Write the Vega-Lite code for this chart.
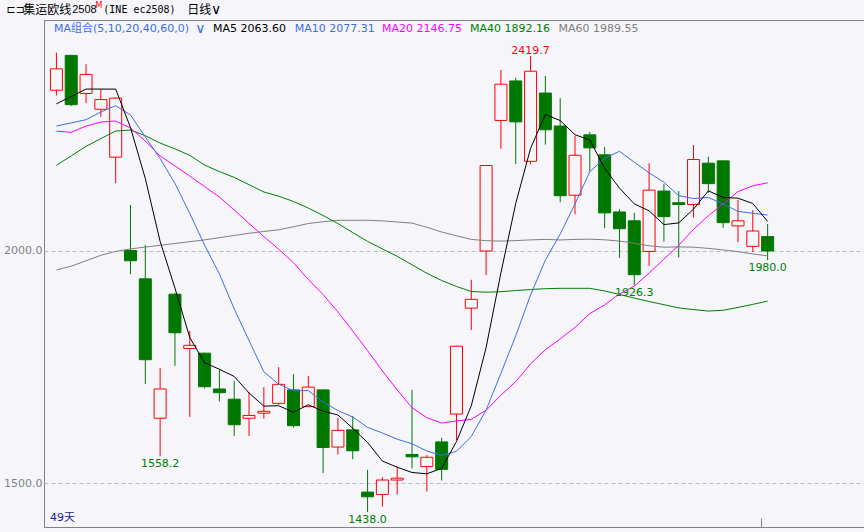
{
"$schema":"https://vega.github.io/schema/vega-lite/v6.json",
"width":820,"height":507,"autosize":"none",
"padding":{"left":44,"top":20,"right":0,"bottom":5},
"background":"#f5f5fa",
"config":{"view":{"stroke":"#808080","strokeWidth":1},"text":{"font":"DejaVu Sans","fontSize":11}},
"datasets":{
"candles":[
{"i":1,"o":2346,"h":2427,"l":2335,"c":2392,"ma5":2316.8,"ma10":2269.0,"ma20":2258.0,"ma40":2184.4,"ma60":1959.1},
{"i":2,"o":2421,"h":2422,"l":2312,"c":2315,"ma5":2332.5,"ma10":2275.7,"ma20":2255.4,"ma40":2204.7,"ma60":1967.3},
{"i":3,"o":2339,"h":2402,"l":2318,"c":2380,"ma5":2348.5,"ma10":2282.6,"ma20":2269.0,"ma40":2225.2,"ma60":1978.9},
{"i":4,"o":2305,"h":2348,"l":2289,"c":2326,"ma5":2348.5,"ma10":2299.2,"ma20":2277.6,"ma40":2241.9,"ma60":1990.7},
{"i":5,"o":2202,"h":2331,"l":2146,"c":2329,"ma5":2348.4,"ma10":2312.7,"ma20":2279.8,"ma40":2258.2,"ma60":1999.1},
{"i":6,"o":2001,"h":2099,"l":1950,"c":1979,"ma5":2265.8,"ma10":2292.7,"ma20":2264.7,"ma40":2260.4,"ma60":2004.5},
{"i":7,"o":1940,"h":2013,"l":1714,"c":1766,"ma5":2156.0,"ma10":2245.4,"ma20":2236.7,"ma40":2248.1,"ma60":2008.4},
{"i":8,"o":1640,"h":1748,"l":1558.2,"c":1703,"ma5":2020.6,"ma10":2198.9,"ma20":2204.4,"ma40":2232.4,"ma60":2012.3},
{"i":9,"o":1907,"h":1910,"l":1753,"c":1824,"ma5":1920.2,"ma10":2145.5,"ma20":2183.0,"ma40":2219.7,"ma60":2016.1},
{"i":10,"o":1790,"h":1828,"l":1643,"c":1797,"ma5":1813.8,"ma10":2081.1,"ma20":2161.4,"ma40":2206.0,"ma60":2020.0},
{"i":11,"o":1780,"h":1781,"l":1704,"c":1708,"ma5":1759.6,"ma10":2012.7,"ma20":2138.6,"ma40":2185.0,"ma60":2023.9},
{"i":12,"o":1703,"h":1745,"l":1676,"c":1695,"ma5":1745.4,"ma10":1950.7,"ma20":2116.0,"ma40":2170.9,"ma60":2028.7},
{"i":13,"o":1681,"h":1720,"l":1602,"c":1626,"ma5":1730.0,"ma10":1875.3,"ma20":2088.2,"ma40":2158.4,"ma60":2033.4},
{"i":14,"o":1640,"h":1696,"l":1602,"c":1646,"ma5":1694.4,"ma10":1807.3,"ma20":2059.4,"ma40":2142.7,"ma60":2038.1},
{"i":15,"o":1651,"h":1707,"l":1639,"c":1655,"ma5":1666.0,"ma10":1739.9,"ma20":2031.0,"ma40":2127.0,"ma60":2042.0},
{"i":16,"o":1672,"h":1750,"l":1669,"c":1713,"ma5":1667.0,"ma10":1713.3,"ma20":2003.9,"ma40":2118.0,"ma60":2045.6},
{"i":17,"o":1701,"h":1735,"l":1620,"c":1624,"ma5":1652.8,"ma10":1699.1,"ma20":1974.7,"ma40":2106.5,"ma60":2052.1},
{"i":18,"o":1665,"h":1731,"l":1664,"c":1707,"ma5":1669.0,"ma10":1699.5,"ma20":1938.7,"ma40":2092.5,"ma60":2059.2},
{"i":19,"o":1701,"h":1702,"l":1522,"c":1577,"ma5":1655.2,"ma10":1674.8,"ma20":1906.2,"ma40":2076.4,"ma60":2063.0},
{"i":20,"o":1578,"h":1641,"l":1562,"c":1614,"ma5":1647.0,"ma10":1656.5,"ma20":1868.8,"ma40":2059.0,"ma60":2066.1},
{"i":21,"o":1615,"h":1645,"l":1552,"c":1570,"ma5":1618.4,"ma10":1642.7,"ma20":1827.7,"ma40":2039.6,"ma60":2066.1},
{"i":22,"o":1481,"h":1529,"l":1438,"c":1471,"ma5":1587.8,"ma10":1620.3,"ma20":1785.5,"ma40":2020.7,"ma60":2066.1},
{"i":23,"o":1476,"h":1513,"l":1450,"c":1507,"ma5":1547.8,"ma10":1608.4,"ma20":1741.85,"ma40":2004.5,"ma60":2064.8},
{"i":24,"o":1507,"h":1536,"l":1476,"c":1511,"ma5":1534.6,"ma10":1594.9,"ma20":1701.1,"ma40":1988.6,"ma60":2062.4},
{"i":25,"o":1562,"h":1701,"l":1532,"c":1557,"ma5":1523.2,"ma10":1585.1,"ma20":1662.5,"ma40":1970.3,"ma60":2060.0},
{"i":26,"o":1536,"h":1561,"l":1482,"c":1556,"ma5":1520.4,"ma10":1569.4,"ma20":1641.35,"ma40":1952.0,"ma60":2051.0},
{"i":27,"o":1589,"h":1598,"l":1506,"c":1530,"ma5":1532.2,"ma10":1560.0,"ma20":1629.55,"ma40":1936.5,"ma60":2040.9},
{"i":28,"o":1649,"h":1796,"l":1593,"c":1795,"ma5":1589.8,"ma10":1568.8,"ma20":1634.15,"ma40":1923.6,"ma60":2032.7},
{"i":29,"o":1877,"h":1938,"l":1830,"c":1896,"ma5":1666.8,"ma10":1600.7,"ma20":1637.75,"ma40":1912.8,"ma60":2025.0},
{"i":30,"o":2000,"h":2185,"l":1948,"c":2184,"ma5":1792.2,"ma10":1657.7,"ma20":1657.1,"ma40":1911.3,"ma60":2022.2},
{"i":31,"o":2281,"h":2390,"l":2220,"c":2359,"ma5":1952.8,"ma10":1736.6,"ma20":1689.65,"ma40":1912.4,"ma60":2021.3},
{"i":32,"o":2366,"h":2373,"l":2187,"c":2278,"ma5":2102.4,"ma10":1817.3,"ma20":1718.8,"ma40":1914.8,"ma60":2022.4},
{"i":33,"o":2193,"h":2419.7,"l":2187,"c":2387,"ma5":2220.8,"ma10":1905.3,"ma20":1756.85,"ma40":1917.1,"ma60":2023.9},
{"i":34,"o":2340,"h":2377,"l":2229,"c":2261,"ma5":2293.8,"ma10":1980.3,"ma20":1787.6,"ma40":1918.9,"ma60":2025.0},
{"i":35,"o":2269,"h":2329,"l":2105,"c":2119,"ma5":2280.8,"ma10":2036.5,"ma20":1810.8,"ma40":1919.7,"ma60":2023.7},
{"i":36,"o":2120,"h":2248,"l":2079,"c":2206,"ma5":2250.2,"ma10":2101.5,"ma20":1835.45,"ma40":1919.7,"ma60":2025.0},
{"i":37,"o":2250,"h":2256,"l":2171,"c":2222,"ma5":2239.0,"ma10":2170.7,"ma20":1865.35,"ma40":1919.7,"ma60":2025.4},
{"i":38,"o":2207,"h":2224,"l":2049,"c":2082,"ma5":2178.0,"ma10":2199.4,"ma20":1884.1,"ma40":1913.9,"ma60":2024.1},
{"i":39,"o":2084,"h":2090,"l":1985,"c":2048,"ma5":2135.4,"ma10":2214.6,"ma20":1907.65,"ma40":1906.6,"ma60":2021.3},
{"i":40,"o":2065,"h":2082,"l":1926.3,"c":1949,"ma5":2101.4,"ma10":2191.1,"ma20":1924.4,"ma40":1898.6,"ma60":2016.6},
{"i":41,"o":1999,"h":2189,"l":1968,"c":2131,"ma5":2086.4,"ma10":2168.3,"ma20":1952.45,"ma40":1891.3,"ma60":2011.2},
{"i":42,"o":2129,"h":2144,"l":2020,"c":2074,"ma5":2056.8,"ma10":2147.9,"ma20":1982.6,"ma40":1884.4,"ma60":2008.2},
{"i":43,"o":2104,"h":2129,"l":1986,"c":2100,"ma5":2060.4,"ma10":2119.2,"ma20":2012.25,"ma40":1877.5,"ma60":2008.8},
{"i":44,"o":2100,"h":2228,"l":2072,"c":2197,"ma5":2090.2,"ma10":2112.8,"ma20":2046.55,"ma40":1873.9,"ma60":2008.2},
{"i":45,"o":2189,"h":2203,"l":2125,"c":2145,"ma5":2129.4,"ma10":2115.4,"ma20":2075.95,"ma40":1870.7,"ma60":2005.6},
{"i":46,"o":2194,"h":2195,"l":2050,"c":2061,"ma5":2115.4,"ma10":2100.9,"ma20":2101.2,"ma40":1872.4,"ma60":2002.4},
{"i":47,"o":2054,"h":2110,"l":2019,"c":2065,"ma5":2113.6,"ma10":2085.2,"ma20":2127.95,"ma40":1878.6,"ma60":1998.5},
{"i":48,"o":2010,"h":2088,"l":1998,"c":2043,"ma5":2102.2,"ma10":2081.3,"ma20":2140.35,"ma40":1885.1,"ma60":1993.5},
{"i":49,"o":2031,"h":2058,"l":1980,"c":2000,"ma5":2063.6,"ma10":2077.31,"ma20":2146.75,"ma40":1892.16,"ma60":1989.55}
],
"notes":[
{"g":"sym","t":"⊏⊐","i":-2.3667,"p":2518.7,"k":"tb"},
{"g":"bar","t":"集运欧线","i":-1.2333,"p":2518.7,"k":"tb"},
{"g":"num","t":"2508","i":2.0667,"p":2518.7,"k":"tb"},
{"g":"sup","t":"M","i":3.6333,"p":2527.3,"k":"hi"},
{"g":"mono","t":"(INE ec2508)","i":4.1667,"p":2518.7,"k":"tb"},
{"g":"bar","t":"日线","i":9.8333,"p":2518.7,"k":"tb"},
{"g":"chev","t":"∨","i":11.4333,"p":2518.7,"k":"tb"},
{"g":"leg","t":"MA组合(5,10,20,40,60,0)","i":0.8333,"p":2477.8,"k":"combo"},
{"g":"chev","t":"∨","i":10.3667,"p":2477.8,"k":"combo"},
{"g":"leg","t":"MA5 2063.60","i":11.5667,"p":2477.8,"k":"MA5"},
{"g":"leg","t":"MA10 2077.31","i":17.08,"p":2477.8,"k":"MA10"},
{"g":"leg","t":"MA20 2146.75","i":22.9667,"p":2477.8,"k":"MA20"},
{"g":"leg","t":"MA40 1892.16","i":28.92,"p":2477.8,"k":"MA40"},
{"g":"leg","t":"MA60 1989.55","i":34.88,"p":2477.8,"k":"MA60"},
{"g":"hi","t":"2419.7","i":33,"p":2419.7,"k":"hi"},
{"g":"lo","t":"1558.2","i":8,"p":1558.2,"k":"lo"},
{"g":"lo","t":"1438.0","i":22,"p":1438.0,"k":"lo"},
{"g":"lo","t":"1926.3","i":40,"p":1926.3,"k":"lo"},
{"g":"lo","t":"1980.0","i":49,"p":1980.0,"k":"lo"},
{"g":"leg","t":"49天","i":0.5667,"p":1425.3,"k":"days"}
]
},
"encoding":{
"x":{"field":"i","type":"quantitative","scale":{"domain":[0.5,55.1667],"nice":false,"zero":false},
"axis":{"title":null,"values":[48.52],"labels":false,"domain":false,"grid":false,"tickSize":-9,"tickColor":"#808080"}}
},
"layer":[
{"data":{"name":"candles"},"mark":{"type":"rule","strokeWidth":1},
"encoding":{
"y":{"field":"l","type":"quantitative","scale":{"domain":[1405.9,2497.2],"nice":false,"zero":false},
"axis":{"title":null,"values":[1500,2000],"format":".1f","labelColor":"#808080","labelFont":"DejaVu Sans","labelFontSize":11,"labelPadding":2,"ticks":false,"domain":false,"grid":true,"gridColor":"#bdbdbd","gridDash":[4,3]}},
"y2":{"field":"h"},
"stroke":{"condition":{"test":"datum.c>=datum.o","value":"#ff0000"},"value":"#007800"}}},
{"data":{"name":"candles"},"mark":{"type":"bar","width":12,"orient":"vertical","strokeWidth":1},
"encoding":{
"y":{"field":"o","type":"quantitative","scale":{"domain":[1405.9,2497.2],"nice":false,"zero":false},"title":null},
"y2":{"field":"c"},
"fill":{"condition":{"test":"datum.c>=datum.o","value":"#f5f5fa"},"value":"#007800"},
"stroke":{"condition":{"test":"datum.c>=datum.o","value":"#ff0000"},"value":"#007800"}}},
{"data":{"name":"candles"},"mark":{"type":"line","stroke":"#808080","strokeWidth":1},
"encoding":{"y":{"field":"ma60","type":"quantitative","scale":{"domain":[1405.9,2497.2],"nice":false,"zero":false},"title":null}}},
{"data":{"name":"candles"},"mark":{"type":"line","stroke":"#008000","strokeWidth":1},
"encoding":{"y":{"field":"ma40","type":"quantitative","scale":{"domain":[1405.9,2497.2],"nice":false,"zero":false},"title":null}}},
{"data":{"name":"candles"},"mark":{"type":"line","stroke":"#ff00ff","strokeWidth":1},
"encoding":{"y":{"field":"ma20","type":"quantitative","scale":{"domain":[1405.9,2497.2],"nice":false,"zero":false},"title":null}}},
{"data":{"name":"candles"},"mark":{"type":"line","stroke":"#3c6ee6","strokeWidth":1},
"encoding":{"y":{"field":"ma10","type":"quantitative","scale":{"domain":[1405.9,2497.2],"nice":false,"zero":false},"title":null}}},
{"data":{"name":"candles"},"mark":{"type":"line","stroke":"#000000","strokeWidth":1},
"encoding":{"y":{"field":"ma5","type":"quantitative","scale":{"domain":[1405.9,2497.2],"nice":false,"zero":false},"title":null}}},
{"mark":{"type":"rule","stroke":"#808080","strokeWidth":1},
"encoding":{"x":{"datum":-2.5},"x2":{"datum":0.5},"y":{"datum":2497.2,"type":"quantitative","scale":{"domain":[1405.9,2497.2],"nice":false,"zero":false},"title":null}}},
{"data":{"name":"notes"},"transform":[{"filter":"datum.g=='bar'"}],
"mark":{"type":"text","align":"left","baseline":"middle","font":"Noto Sans CJK SC","fontSize":12},
"encoding":{"y":{"field":"p","type":"quantitative","scale":{"domain":[1405.9,2497.2],"nice":false,"zero":false},"title":null},"text":{"field":"t"},
"color":{"field":"k","type":"nominal","legend":null,"scale":{"domain":["tb","combo","MA5","MA10","MA20","MA40","MA60","hi","lo","days"],"range":["#000000","#3c6ee6","#000000","#3c6ee6","#ff00ff","#008000","#808080","#ff0000","#008000","#1e1e96"]}}}},
{"data":{"name":"notes"},"transform":[{"filter":"datum.g=='num'"}],
"mark":{"type":"text","align":"left","baseline":"middle","font":"Liberation Sans","fontSize":11},
"encoding":{"y":{"field":"p","type":"quantitative","scale":{"domain":[1405.9,2497.2],"nice":false,"zero":false},"title":null},"text":{"field":"t"},"color":{"field":"k","type":"nominal","legend":null}}},
{"data":{"name":"notes"},"transform":[{"filter":"datum.g=='mono'"}],
"mark":{"type":"text","align":"left","baseline":"middle","font":"DejaVu Sans Mono","fontSize":10},
"encoding":{"y":{"field":"p","type":"quantitative","scale":{"domain":[1405.9,2497.2],"nice":false,"zero":false},"title":null},"text":{"field":"t"},"color":{"field":"k","type":"nominal","legend":null}}},
{"data":{"name":"notes"},"transform":[{"filter":"datum.g=='sup'"}],
"mark":{"type":"text","align":"left","baseline":"middle","font":"DejaVu Sans","fontSize":8},
"encoding":{"y":{"field":"p","type":"quantitative","scale":{"domain":[1405.9,2497.2],"nice":false,"zero":false},"title":null},"text":{"field":"t"},"color":{"field":"k","type":"nominal","legend":null}}},
{"data":{"name":"notes"},"transform":[{"filter":"datum.g=='sym'"}],
"mark":{"type":"text","align":"left","baseline":"middle","font":"DejaVu Sans","fontSize":11},
"encoding":{"y":{"field":"p","type":"quantitative","scale":{"domain":[1405.9,2497.2],"nice":false,"zero":false},"title":null},"text":{"field":"t"},"color":{"field":"k","type":"nominal","legend":null}}},
{"data":{"name":"notes"},"transform":[{"filter":"datum.g=='chev'"}],
"mark":{"type":"text","align":"left","baseline":"middle","font":"DejaVu Sans","fontSize":14},
"encoding":{"y":{"field":"p","type":"quantitative","scale":{"domain":[1405.9,2497.2],"nice":false,"zero":false},"title":null},"text":{"field":"t"},"color":{"field":"k","type":"nominal","legend":null}}},
{"data":{"name":"notes"},"transform":[{"filter":"datum.g=='leg'"}],
"mark":{"type":"text","align":"left","baseline":"middle","font":"DejaVu Sans, Noto Sans CJK SC","fontSize":11},
"encoding":{"y":{"field":"p","type":"quantitative","scale":{"domain":[1405.9,2497.2],"nice":false,"zero":false},"title":null},"text":{"field":"t"},"color":{"field":"k","type":"nominal","legend":null}}},
{"data":{"name":"notes"},"transform":[{"filter":"datum.g=='hi'"}],
"mark":{"type":"text","align":"center","baseline":"bottom","font":"DejaVu Sans","fontSize":11},
"encoding":{"y":{"field":"p","type":"quantitative","scale":{"domain":[1405.9,2497.2],"nice":false,"zero":false},"title":null},"text":{"field":"t"},"color":{"field":"k","type":"nominal","legend":null}}},
{"data":{"name":"notes"},"transform":[{"filter":"datum.g=='lo'"}],
"mark":{"type":"text","align":"center","baseline":"top","dy":2,"font":"DejaVu Sans","fontSize":11},
"encoding":{"y":{"field":"p","type":"quantitative","scale":{"domain":[1405.9,2497.2],"nice":false,"zero":false},"title":null},"text":{"field":"t"},"color":{"field":"k","type":"nominal","legend":null}}}
]
}
